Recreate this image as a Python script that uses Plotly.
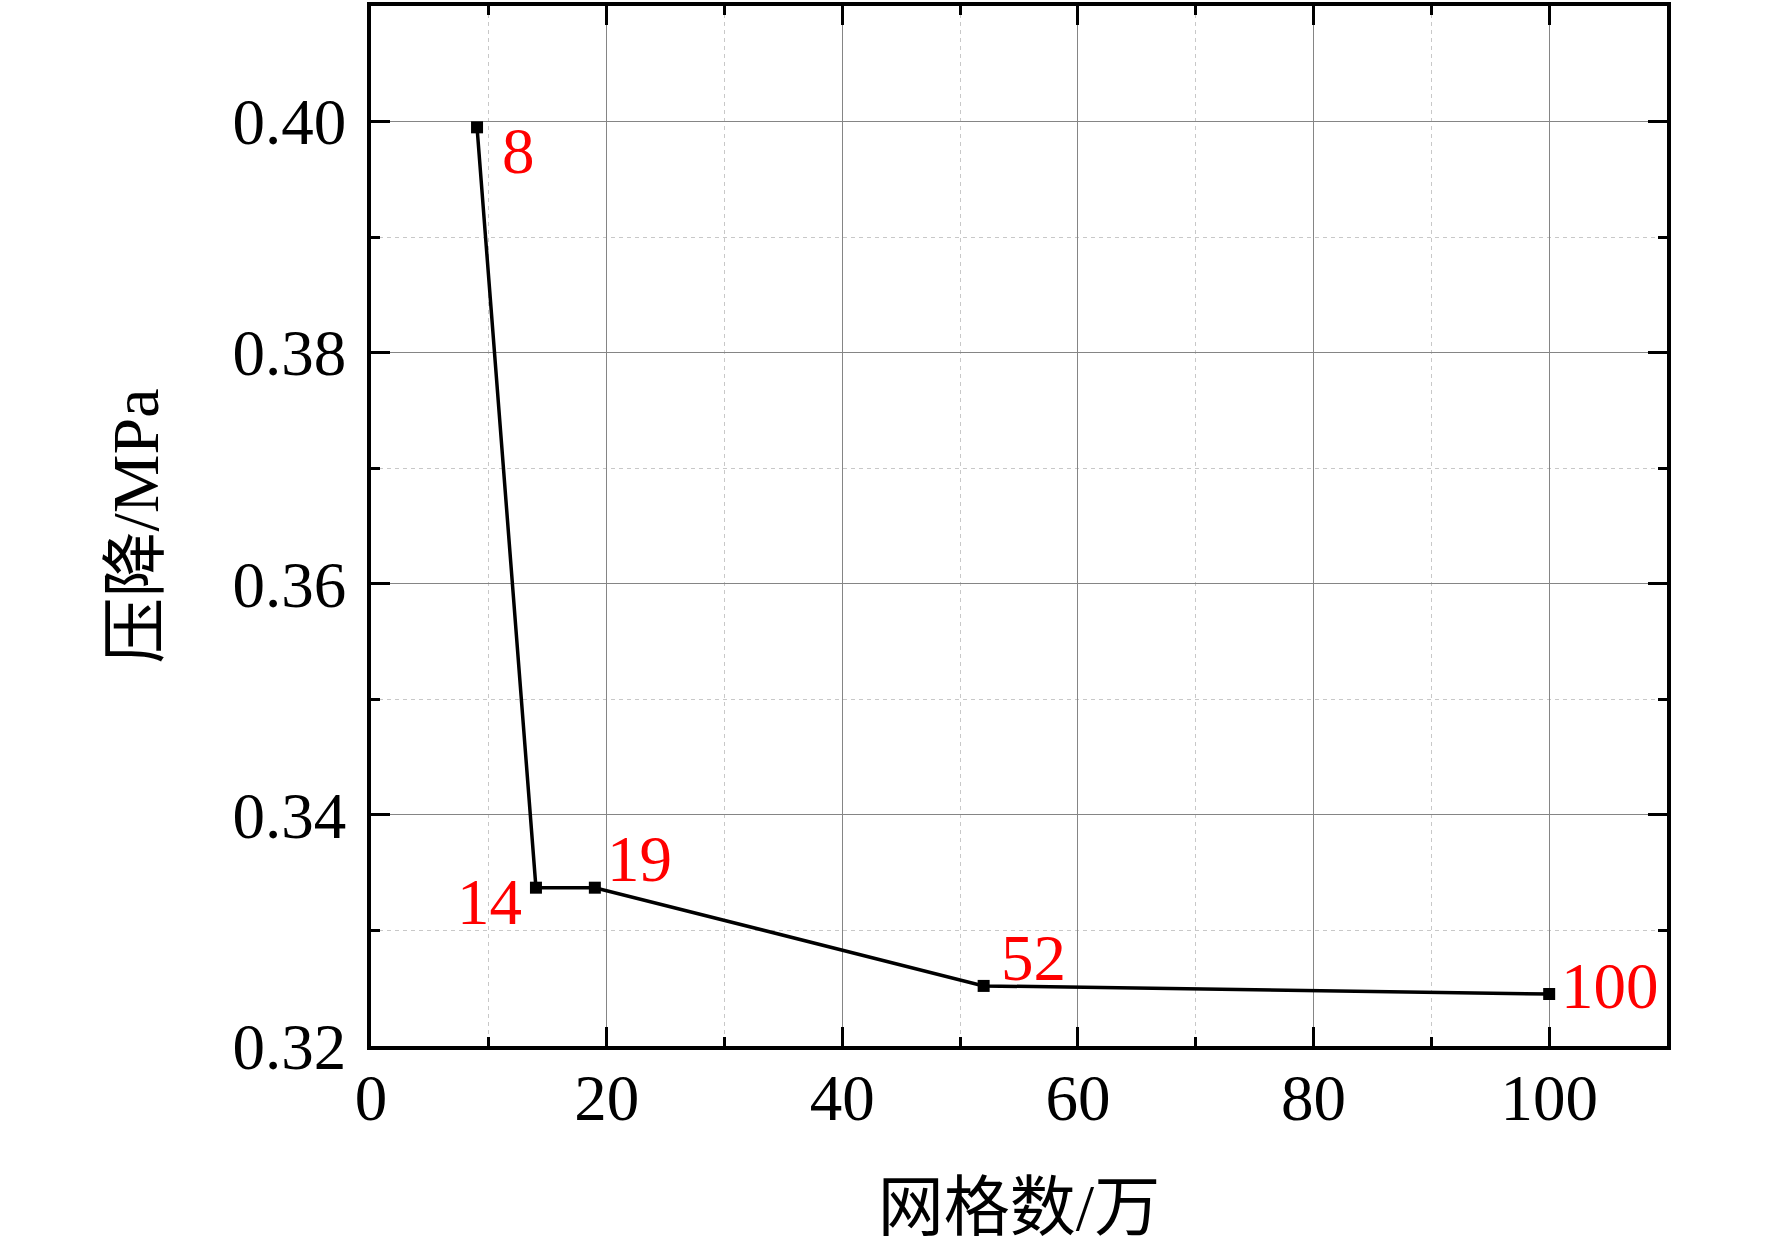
import plotly.graph_objects as go

# Data
mesh_count = [9, 14, 19, 52, 100]          # 网格数/万
pressure_drop = [0.3995, 0.3337, 0.3337, 0.3252, 0.3245]  # 压降/MPa
point_labels = ["8", "14", "19", "52", "100"]

x_ticks = [0, 20, 40, 60, 80, 100]
y_ticks = [0.32, 0.34, 0.36, 0.38, 0.40]
y_tick_text = ["0.32", "0.34", "0.36", "0.38", "0.40"]

# label placement (anchor, pixel shift) per point
label_xanchor = ["left", "right", "left", "left", "left"]
label_xshift = [23, -12, 10, 15, 10]
label_yshift = [-24, -14, 29, 28, 8]

SERIF = "Liberation Serif, Times New Roman, serif"
CJK = "Liberation Serif, Noto Sans CJK SC, serif"

fig = go.Figure()
fig.add_trace(go.Scatter(
    x=mesh_count, y=pressure_drop, mode="lines+markers",
    line=dict(color="black", width=3.5),
    marker=dict(symbol="square", size=12, color="black"),
    showlegend=False, hoverinfo="skip",
))

for xv, yv, t, xa, xs, ys in zip(mesh_count, pressure_drop, point_labels,
                                  label_xanchor, label_xshift, label_yshift):
    fig.add_annotation(x=xv, y=yv, text=t, showarrow=False,
                       xanchor=xa, yanchor="middle", xshift=xs, yshift=ys,
                       font=dict(family=SERIF, size=65, color="#ff0000"))

axis_common = dict(
    showline=True, linecolor="black", linewidth=3.5, mirror="ticks",
    ticks="inside", ticklen=19, tickwidth=3, tickcolor="black",
    showgrid=True, gridcolor="#858585", gridwidth=1.3,
    zeroline=False,
    tickfont=dict(family=SERIF, size=65, color="black"),
)

minor_common = dict(ticks="inside", ticklen=9, tickwidth=3, tickcolor="black",
                    showgrid=True, gridcolor="#c8c8c8", griddash="4px,4px",
                    gridwidth=1)

fig.update_xaxes(
    range=[0, 110], tickvals=x_ticks, ticktext=[str(v) for v in x_ticks],
    minor=dict(dtick=10, tick0=0, **minor_common),
    title=dict(text="网格数/万", font=dict(family=CJK, size=66, color="black"),
               standoff=52),
    ticklabelstandoff=-8,
    **axis_common,
)
fig.update_yaxes(
    range=[0.32, 0.41], tickvals=y_ticks, ticktext=y_tick_text,
    minor=dict(dtick=0.01, tick0=0.32, **minor_common),
    title=dict(text="压降/MPa", font=dict(family=CJK, size=66, color="black"),
               standoff=53),
    ticklabelstandoff=8,
    **axis_common,
)

fig.update_layout(
    width=1772, height=1249,
    margin=dict(l=371, r=105, t=2, b=203),
    paper_bgcolor="white", plot_bgcolor="white",
)

fig.write_html("out.html",
               config={"displayModeBar": False},
               post_script="document.body.style.margin='0';")
